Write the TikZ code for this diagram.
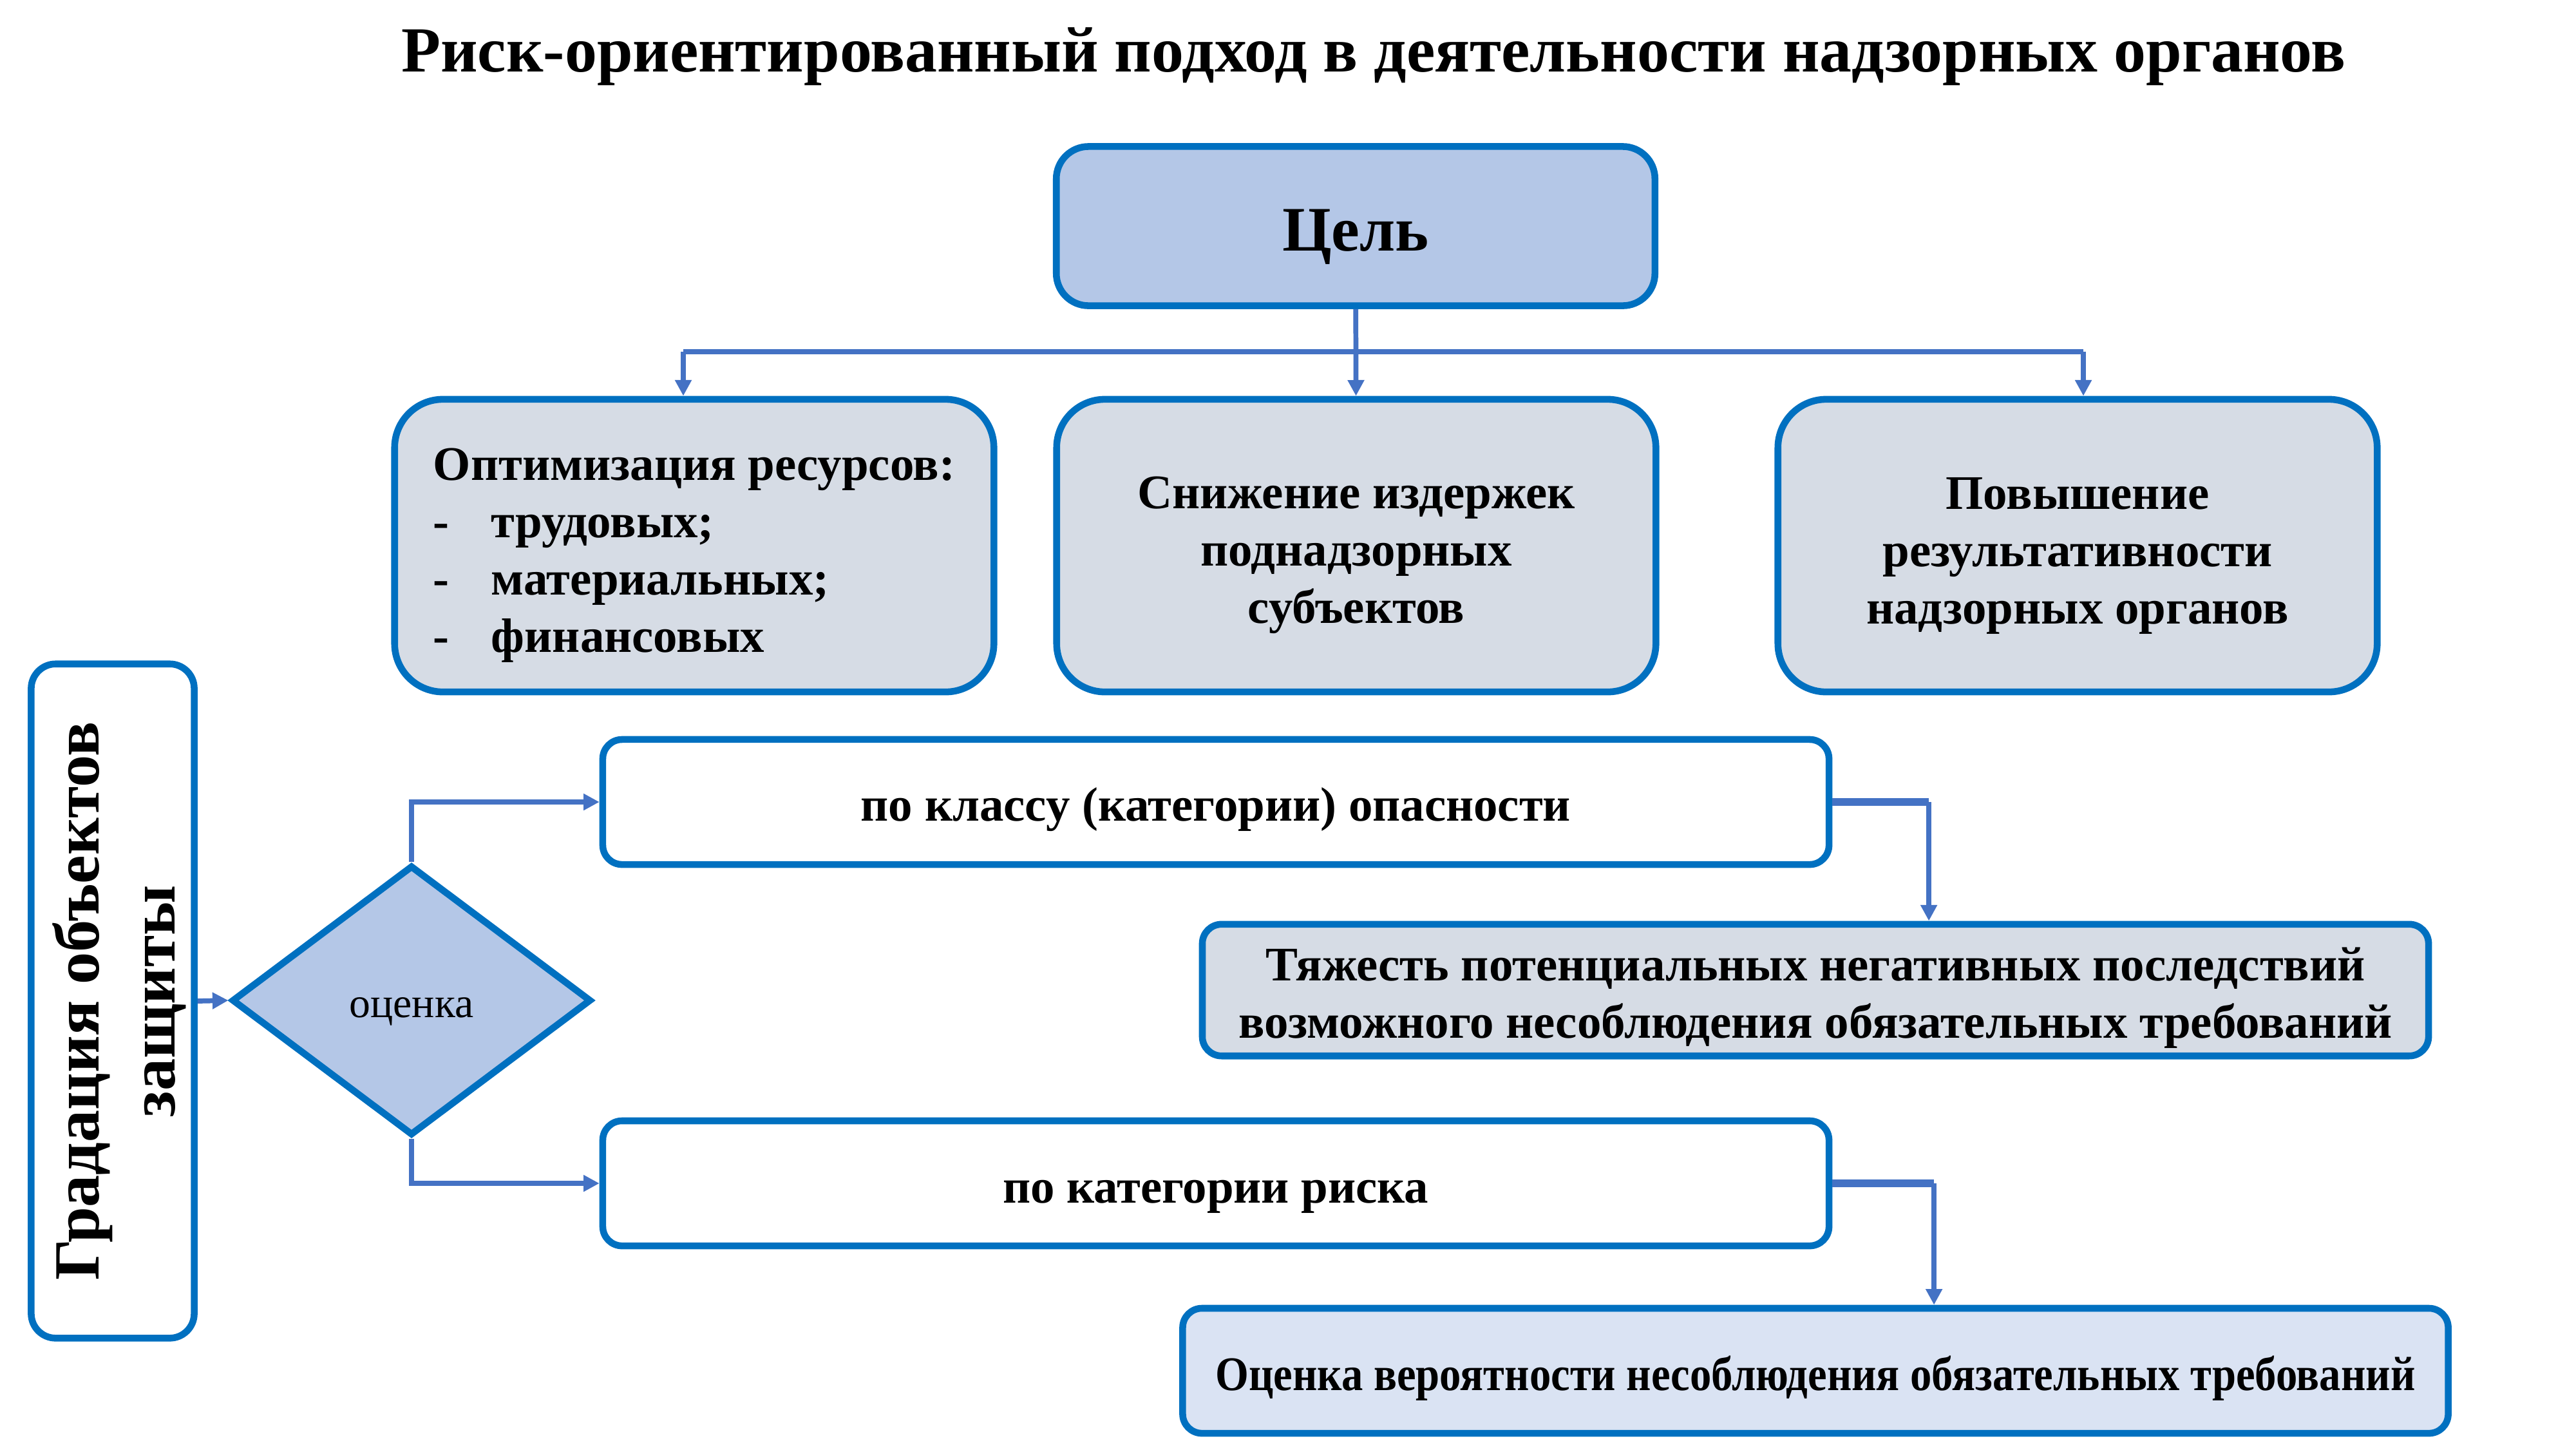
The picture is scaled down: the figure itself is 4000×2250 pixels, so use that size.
\documentclass[tikz,border=0pt]{standalone}
\usepackage{fontspec}
\setmainfont{Liberation Serif}
\usetikzlibrary{arrows.meta,shapes.geometric}

\definecolor{bordblue}{HTML}{0070C0}
\definecolor{linkblue}{HTML}{4472C4}
\definecolor{goalfill}{HTML}{B4C7E7}
\definecolor{greyfill}{HTML}{D6DCE5}
\definecolor{lightfill}{HTML}{DAE3F3}

% strut that pushes the first line of a node down a little
\newcommand{\lowr}[1]{\rule{0pt}{#1}}

\tikzset{
	box/.style={draw=bordblue, line width=3pt, rounded corners=0.75cm, fill=greyfill,
		minimum width=9.3cm, minimum height=4.54cm, font=\bfseries\fontsize{21.3}{25.3}\selectfont, align=center},
	wide/.style={draw=bordblue, line width=3pt, rounded corners=0.3cm,
		minimum width=19.03cm, minimum height=1.94cm, font=\bfseries\fontsize{21.3}{25.3}\selectfont, align=center},
	conn/.style={draw=linkblue, line width=2.2pt, -{Triangle[length=7pt,width=7pt]}},
	stub/.style={draw=linkblue, line width=3.6pt}
}

\begin{document}
\begin{tikzpicture}[x=0.01cm, y=-0.01cm]
\useasboundingbox (0,0) rectangle (4000,2250);

\node (title) at (2133,88) {\bfseries\fontsize{28.4}{32}\selectfont Риск-ориентированный подход в деятельности надзорных органов};

\node (goal) [draw=bordblue, line width=3pt, rounded corners=0.5cm, fill=goalfill,
	minimum width=9.29cm, minimum height=2.47cm, font=\bfseries\fontsize{28}{34}\selectfont] at (2105,351) {\lowr{0.97cm}Цель};

\node (res) [box, align=left] at (1078,847) {\lowr{0.8cm}Оптимизация ресурсов:\\
	-\hspace{0.65cm}трудовых;\\
	-\hspace{0.65cm}материальных;\\
	-\hspace{0.65cm}финансовых};
\node (cost) [box] at (2106,847) {\lowr{0.8cm}Снижение издержек\\ поднадзорных\\ субъектов};
\node (perf) [box] at (3226,847) {\lowr{0.8cm}Повышение\\ результативности\\ надзорных органов};

\coordinate (bus) at (2105,546);
\draw[draw=linkblue, line width=2.2pt] ([xshift=-0.17cm]res.north |- bus) -- ([xshift=0.09cm]perf.north |- bus);
\path
(goal) edge[conn] (cost)
([xshift=-0.17cm]res.north |- bus) edge[conn] ([xshift=-0.17cm]res.north)
([xshift=0.09cm]perf.north |- bus) edge[conn] ([xshift=0.09cm]perf.north);

% gradation block
\node (grad) [draw=bordblue, line width=3pt, rounded corners=0.38cm, fill=white,
	minimum width=10.46cm, minimum height=2.53cm, rotate=90,
	font=\bfseries\fontsize{28.5}{33.5}\selectfont, align=center] at (175,1554) {\lowr{0.92cm}Градация объектов\\ защиты};
\node (est) [diamond, draw=bordblue, line width=3pt, fill=goalfill, aspect=1.33,
	minimum width=5.58cm, minimum height=4.19cm, inner sep=0pt,
	font=\fontsize{18.7}{22}\selectfont] at (639,1553) {\lowr{0.66cm}оценка};

\node (cls) [wide, fill=white] at (1888,1245) {\lowr{0.76cm}по классу (категории) опасности};
\node (rsk) [wide, fill=white] at (1888,1837) {\lowr{0.76cm}по категории риска};
\node (sev) [wide, fill=greyfill] at (2819,1537) {\lowr{0.76cm}Тяжесть потенциальных негативных последствий\\ возможного несоблюдения обязательных требований};
\node (prob) [wide, fill=lightfill, minimum width=19.64cm] at (2819,2128) {\lowr{0.76cm}\scalebox{0.89}[1]{Оценка вероятности несоблюдения обязательных требований}};

\coordinate (clsbend) at ([xshift=1.76cm]sev.north |- cls.east);
\coordinate (rskbend) at ([xshift=1.84cm]prob.north |- rsk.east);

\draw[conn] (grad.south) -- (est.west);
\draw[conn] (est.north) |- (cls.west);
\draw[conn] (est.south) |- (rsk.west);
\draw[stub] (cls.east) -- (clsbend);
\draw[conn] (clsbend) -- ([xshift=1.76cm]sev.north);
\draw[stub] (rsk.east) -- (rskbend);
\draw[conn] (rskbend) -- ([xshift=1.84cm]prob.north);
\end{tikzpicture}
\end{document}
